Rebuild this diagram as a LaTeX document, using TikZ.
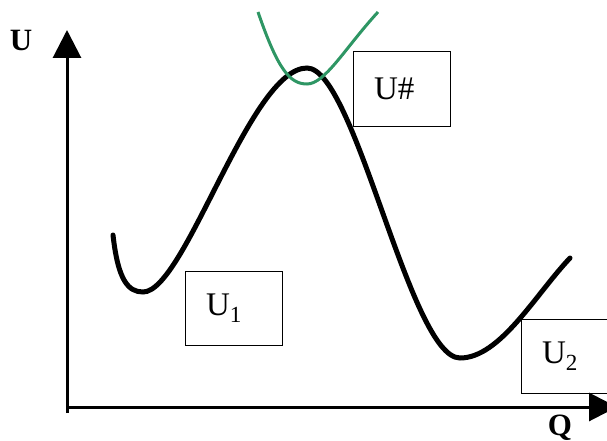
\documentclass[tikz,border=0pt]{standalone}
\usepackage{fontspec}
\setmainfont{Liberation Serif}
\usepackage{tikz}
\usetikzlibrary{arrows.meta}

\begin{document}
\begin{tikzpicture}[
    x=1pt, y=-1pt,
    axis/.style={line width=3pt, -{Triangle[width=28pt, length=28pt]}},
    statebox/.style={draw, line width=1pt, minimum width=97pt, minimum height=74pt, text width=55pt, inner xsep=21pt, align=left, font=\fontsize{33}{36}\selectfont},
    axislabel/.style={font=\fontsize{31}{34}\selectfont\bfseries},
    energy/.style={line width=5pt, line cap=round},
    transition/.style={line width=3pt, draw={rgb,255:red,46;green,150;blue,100}}
]
  \useasboundingbox (0,0) rectangle (607,441);

  % Axes
  \coordinate (origin) at (67,407);
  \coordinate (ytop) at (67,30);
  \coordinate (xend) at (617,407);
  \draw[line width=3pt] (67,413) -- (origin);
  \draw[axis] (origin) -- (ytop);
  \draw[axis] (origin) -- (xend);
  \node[axislabel] (ulabel) at (21,40) {U};
  \node[axislabel] (qlabel) at (560,428) {Q};

  % Boxes
  \node[statebox] (ts) at (401.5,89) {U\#};
  \node[statebox] (u1) at (233.5,308) {U\textsubscript{1}};
  \node[statebox] (u2) at (569.5,356) {U\textsubscript{2}};

  % Potential energy curve
  \draw[energy] (113,235) .. controls (118,280) and (128,292) .. (143,292)
    .. controls (185,292) and (250,68) .. (307,68)
    .. controls (355,68) and (410,358) .. (460,358)
    .. controls (500,358) and (535,295) .. (570,258);

  % Curve at the saddle
  \draw[transition] (258,12) .. controls (278,70) and (290,84) .. (307,84)
    .. controls (325,84) and (345,48) .. (378,12);
\end{tikzpicture}
\end{document}
